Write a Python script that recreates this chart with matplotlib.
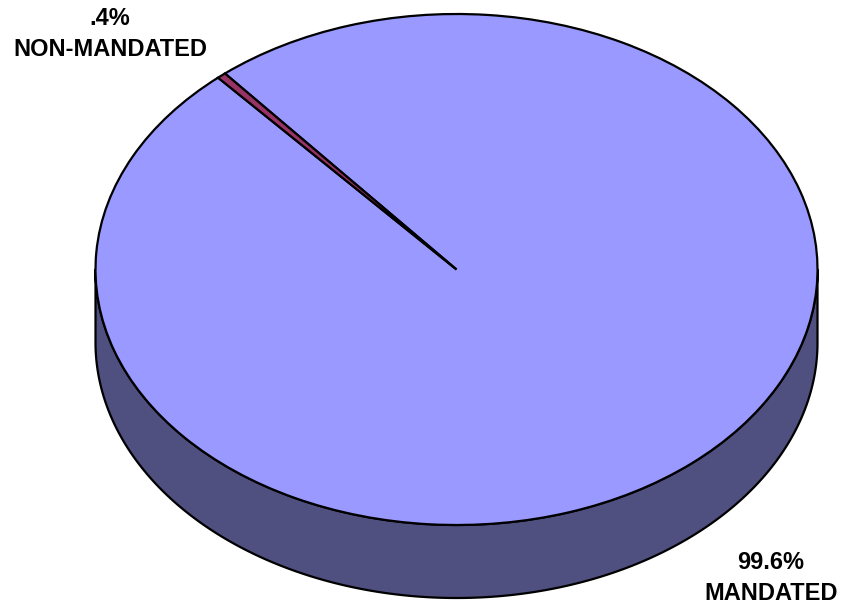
import numpy as np
import matplotlib
matplotlib.use("Agg")
import matplotlib.pyplot as plt
from matplotlib.patches import Polygon

# Share of items by category
categories = ["MANDATED", "NON-MANDATED"]
values = [99.6, 0.4]
value_labels = ["99.6%", ".4%"]

top_colors = ["#9999FF", "#993366"]
side_color = "#4F4F80"

W, H = 841, 607
fig = plt.figure(figsize=(W / 100, H / 100), dpi=100)
ax = fig.add_axes([0, 0, 1, 1])

# Unit ellipse in data coordinates; pixel geometry of the disc
cx, cy, rx, ry = 456.5, 269.5, 361.0, 255.5
depth = 73.0 / ry

# Front side of the disc (lower half of the rim, extruded downward)
t = np.linspace(np.pi, 2 * np.pi, 400)
upper = np.column_stack([np.cos(t), np.sin(t)])
lower = np.column_stack([np.cos(t[::-1]), np.sin(t[::-1]) - depth])
side = Polygon(np.vstack([upper, lower]), closed=True, facecolor=side_color,
               edgecolor="black", linewidth=1.6, joinstyle="round", zorder=1)
ax.add_patch(side)

# Top face of the pie
wedges, _ = ax.pie(values, colors=top_colors, startangle=129.9, counterclock=False,
                   radius=1.0, center=(0, 0),
                   wedgeprops=dict(edgecolor="black", linewidth=1.6, zorder=2))
for w in wedges:
    w.set_zorder(2)

ax.set_aspect("auto")
ax.set_xlim((0 - cx) / rx, (W - cx) / rx)
ax.set_ylim(-(H - cy) / ry, cy / ry)
ax.axis("off")

font = dict(family=["Liberation Sans", "DejaVu Sans"], fontsize=17, fontweight="bold",
            ha="center", va="center", linespacing=1.4, color="black")

def px(x, y):
    return (x - cx) / rx, -(y - cy) / ry

ax.text(*px(110, 34), f"{value_labels[1]}\n{categories[1]}", **font)
ax.text(*px(771, 578), f"{value_labels[0]}\n{categories[0]}", **font)

fig.savefig("out.png", dpi=100)
